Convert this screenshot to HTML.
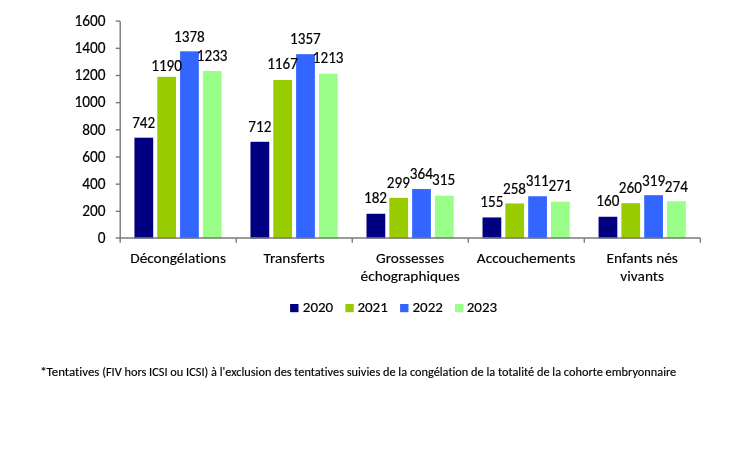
<!DOCTYPE html>
<html><head><meta charset="utf-8"><title>Chart</title>
<style>html,body{margin:0;padding:0;background:#fff;width:750px;height:458px;overflow:hidden}svg{display:block;will-change:transform}text{stroke:#000;stroke-width:0.15px}.d text{stroke-width:0.18px}text{font-variant-ligatures:none;font-kerning:normal}</style>
</head><body>
<svg width="750" height="458" viewBox="0 0 750 458">
<rect width="750" height="458" fill="#fff"/>
<rect x="134.44" y="137.70" width="18.76" height="100.80" fill="#000080"/>
<rect x="157.26" y="76.85" width="18.76" height="161.65" fill="#99CC00"/>
<rect x="180.08" y="51.31" width="18.76" height="187.19" fill="#3366FF"/>
<rect x="202.90" y="71.00" width="18.76" height="167.50" fill="#99FF88"/>
<rect x="250.47" y="141.78" width="18.76" height="96.72" fill="#000080"/>
<rect x="273.29" y="79.97" width="18.76" height="158.53" fill="#99CC00"/>
<rect x="296.11" y="54.16" width="18.76" height="184.34" fill="#3366FF"/>
<rect x="318.93" y="73.72" width="18.76" height="164.78" fill="#99FF88"/>
<rect x="366.50" y="213.78" width="18.76" height="24.72" fill="#000080"/>
<rect x="389.32" y="197.88" width="18.76" height="40.62" fill="#99CC00"/>
<rect x="412.14" y="189.05" width="18.76" height="49.45" fill="#3366FF"/>
<rect x="434.96" y="195.71" width="18.76" height="42.79" fill="#99FF88"/>
<rect x="482.53" y="217.44" width="18.76" height="21.06" fill="#000080"/>
<rect x="505.35" y="203.45" width="18.76" height="35.05" fill="#99CC00"/>
<rect x="528.17" y="196.25" width="18.76" height="42.25" fill="#3366FF"/>
<rect x="550.99" y="201.69" width="18.76" height="36.81" fill="#99FF88"/>
<rect x="598.56" y="216.76" width="18.76" height="21.73" fill="#000080"/>
<rect x="621.38" y="203.18" width="18.76" height="35.32" fill="#99CC00"/>
<rect x="644.20" y="195.17" width="18.76" height="43.33" fill="#3366FF"/>
<rect x="667.02" y="201.28" width="18.76" height="37.22" fill="#99FF88"/>
<g stroke="#7a7a7a" stroke-width="1.4" fill="none">
<line x1="120.2" y1="21.15" x2="120.2" y2="242.8"/>
<line x1="115.7" y1="238.0" x2="700.35" y2="238.0"/>
<line x1="115.7" y1="211.33" x2="120.2" y2="211.33"/>
<line x1="115.7" y1="184.16" x2="120.2" y2="184.16"/>
<line x1="115.7" y1="156.99" x2="120.2" y2="156.99"/>
<line x1="115.7" y1="129.83" x2="120.2" y2="129.83"/>
<line x1="115.7" y1="102.66" x2="120.2" y2="102.66"/>
<line x1="115.7" y1="75.49" x2="120.2" y2="75.49"/>
<line x1="115.7" y1="48.32" x2="120.2" y2="48.32"/>
<line x1="115.7" y1="21.15" x2="120.2" y2="21.15"/>
<line x1="236.23" y1="238.0" x2="236.23" y2="242.8"/>
<line x1="352.26" y1="238.0" x2="352.26" y2="242.8"/>
<line x1="468.29" y1="238.0" x2="468.29" y2="242.8"/>
<line x1="584.32" y1="238.0" x2="584.32" y2="242.8"/>
<line x1="700.35" y1="238.0" x2="700.35" y2="242.8"/>
</g>
<g font-family='"Carlito","Liberation Sans",sans-serif' font-size="15.3" fill="#000" class="d" text-anchor="end">
<text x="105.6" y="243.20" textLength="7.77" lengthAdjust="spacingAndGlyphs">0</text>
<text x="105.6" y="216.03" textLength="23.27" lengthAdjust="spacingAndGlyphs">200</text>
<text x="105.6" y="188.86" textLength="23.27" lengthAdjust="spacingAndGlyphs">400</text>
<text x="105.6" y="161.69" textLength="23.27" lengthAdjust="spacingAndGlyphs">600</text>
<text x="105.6" y="134.53" textLength="23.27" lengthAdjust="spacingAndGlyphs">800</text>
<text x="105.6" y="107.36" textLength="31.02" lengthAdjust="spacingAndGlyphs">1000</text>
<text x="105.6" y="80.19" textLength="31.02" lengthAdjust="spacingAndGlyphs">1200</text>
<text x="105.6" y="53.02" textLength="31.02" lengthAdjust="spacingAndGlyphs">1400</text>
<text x="105.6" y="25.85" textLength="31.02" lengthAdjust="spacingAndGlyphs">1600</text>
</g>
<g font-family='"Carlito","Liberation Sans",sans-serif' font-size="15.4" fill="#000" class="d" text-anchor="middle">
<text x="143.7" y="127.8" textLength="23.06" lengthAdjust="spacingAndGlyphs">742</text>
<text x="166.6" y="71.2" textLength="30.73" lengthAdjust="spacingAndGlyphs">1190</text>
<text x="189.4" y="41.6" textLength="30.73" lengthAdjust="spacingAndGlyphs">1378</text>
<text x="212.2" y="61.2" textLength="30.73" lengthAdjust="spacingAndGlyphs">1233</text>
<text x="259.8" y="131.5" textLength="23.06" lengthAdjust="spacingAndGlyphs">712</text>
<text x="282.5" y="69.4" textLength="30.73" lengthAdjust="spacingAndGlyphs">1167</text>
<text x="305.4" y="44.1" textLength="30.73" lengthAdjust="spacingAndGlyphs">1357</text>
<text x="328.2" y="63.4" textLength="30.73" lengthAdjust="spacingAndGlyphs">1213</text>
<text x="375.5" y="203.3" textLength="23.06" lengthAdjust="spacingAndGlyphs">182</text>
<text x="398.4" y="187.6" textLength="23.06" lengthAdjust="spacingAndGlyphs">299</text>
<text x="421.4" y="179.2" textLength="23.06" lengthAdjust="spacingAndGlyphs">364</text>
<text x="443.6" y="185.0" textLength="23.06" lengthAdjust="spacingAndGlyphs">315</text>
<text x="491.8" y="207.1" textLength="23.06" lengthAdjust="spacingAndGlyphs">155</text>
<text x="514.5" y="193.5" textLength="23.06" lengthAdjust="spacingAndGlyphs">258</text>
<text x="537.2" y="186.2" textLength="23.06" lengthAdjust="spacingAndGlyphs">311</text>
<text x="560.1" y="191.4" textLength="23.06" lengthAdjust="spacingAndGlyphs">271</text>
<text x="607.9" y="206.4" textLength="23.06" lengthAdjust="spacingAndGlyphs">160</text>
<text x="630.4" y="192.8" textLength="23.06" lengthAdjust="spacingAndGlyphs">260</text>
<text x="653.6" y="185.6" textLength="23.06" lengthAdjust="spacingAndGlyphs">319</text>
<text x="676.3" y="191.5" textLength="23.06" lengthAdjust="spacingAndGlyphs">274</text>
</g>
<g font-family='"Carlito","Liberation Sans",sans-serif' font-size="15" fill="#000" text-anchor="middle">
<text x="178.05" y="262.90" textLength="95.69" lengthAdjust="spacingAndGlyphs">Décongélations</text>
<text x="294.08" y="262.90" textLength="61.30" lengthAdjust="spacingAndGlyphs">Transferts</text>
<text x="410.11" y="262.90" textLength="68.03" lengthAdjust="spacingAndGlyphs">Grossesses</text>
<text x="410.11" y="280.90" textLength="99.03" lengthAdjust="spacingAndGlyphs">échographiques</text>
<text x="526.14" y="262.90" textLength="98.62" lengthAdjust="spacingAndGlyphs">Accouchements</text>
<text x="642.17" y="262.90" textLength="71.38" lengthAdjust="spacingAndGlyphs">Enfants nés</text>
<text x="642.17" y="280.90" textLength="43.58" lengthAdjust="spacingAndGlyphs">vivants</text>
</g>
<g font-family='"Carlito","Liberation Sans",sans-serif' font-size="15" fill="#000" class="d">
<rect x="290.1" y="304" width="8.4" height="8.2" fill="#000080"/>
<text x="302.8" y="312.3" textLength="30.42" lengthAdjust="spacingAndGlyphs">2020</text>
<rect x="345.4" y="304" width="8.4" height="8.2" fill="#99CC00"/>
<text x="357.4" y="312.3" textLength="30.42" lengthAdjust="spacingAndGlyphs">2021</text>
<rect x="400.1" y="304" width="8.4" height="8.2" fill="#3366FF"/>
<text x="412.5" y="312.3" textLength="30.42" lengthAdjust="spacingAndGlyphs">2022</text>
<rect x="455.1" y="304" width="8.4" height="8.2" fill="#99FF88"/>
<text x="466.7" y="312.3" textLength="30.42" lengthAdjust="spacingAndGlyphs">2023</text>
</g>
<text y="376.3" font-family='"Carlito","Liberation Sans",sans-serif' font-size="12.1" fill="#000"><tspan x="40.2" textLength="59.23" lengthAdjust="spacingAndGlyphs">*Tentatives</tspan><tspan x="102.2" textLength="574.06" lengthAdjust="spacingAndGlyphs">(FIV hors ICSI ou ICSI) à l'exclusion des tentatives suivies de la congélation de la totalité de la cohorte embryonnaire</tspan></text>
</svg>
</body></html>
